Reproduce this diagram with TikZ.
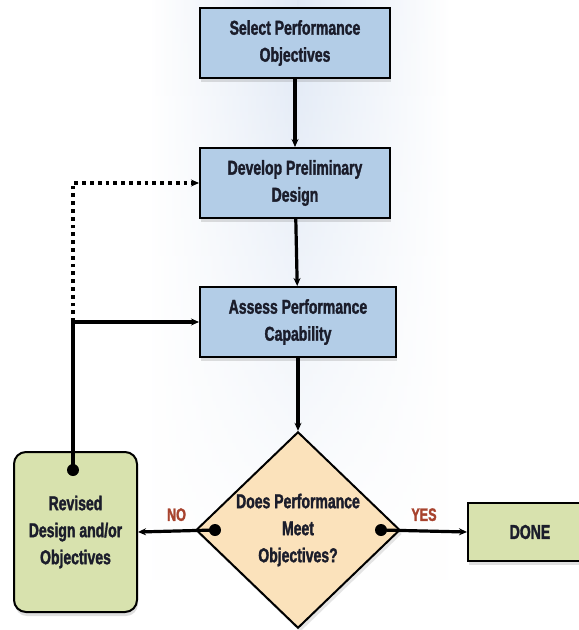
\documentclass[tikz,border=0pt]{standalone}
\usepackage{fontspec}
\setmainfont{Liberation Sans}[FakeStretch=0.70, BoldFeatures={FakeBold=1.6}]
\usetikzlibrary{positioning,shapes.geometric,arrows.meta,shadows,calc,fadings}
\definecolor{stepblue}{HTML}{B3CDE7}
\definecolor{stepgreen}{HTML}{D8E2AE}
\definecolor{askpeach}{HTML}{FBE2BB}
\definecolor{glowblue}{HTML}{CCDAEF}
\definecolor{answerred}{HTML}{A8432E}
\definecolor{inkdark}{HTML}{1B1D2B}
\tikzfading[name=glowfade, top color=transparent!40, middle color=transparent!0,
  bottom color=transparent!100]
\tikzset{
  every node/.style={font=\fontsize{20}{27}\selectfont\bfseries, text=inkdark},
  stepbox/.style={draw=black, line width=2pt, fill=stepblue, minimum width=190pt,
    minimum height=70pt, align=center,
    drop shadow={shadow xshift=1pt, shadow yshift=-4pt, opacity=0.25}},
  endbox/.style={draw=black, line width=2pt, fill=stepgreen, align=center,
    drop shadow={shadow xshift=1pt, shadow yshift=-4pt, opacity=0.25}},
  askbox/.style={diamond, draw=black, line width=2pt, fill=askpeach, inner sep=0pt,
    minimum width=204pt, minimum height=194pt, align=center,
    drop shadow={shadow xshift=2pt, shadow yshift=-4pt, opacity=0.2}},
  flow/.style={line width=3.2pt, -{Stealth[length=8pt,width=7pt]}},
  loopback/.style={line width=3.8pt, dash pattern=on 3.8pt off 4pt,
    -{Stealth[length=8pt,width=7pt]}},
  dot/.style={fill=black, circle, inner sep=0pt, minimum size=12pt},
  answer/.style={text=answerred, font=\fontsize{18}{20}\selectfont\bfseries}
}
\begin{document}
\begin{tikzpicture}[x=1pt,y=-1pt]
  \clip (0,0) rectangle (579,630);
  \fill[white] (0,0) rectangle (579,630);
  % soft glow behind the middle column
  \shade[left color=white, right color=glowblue, path fading=glowfade] (150,0) rectangle (298,580);
  \shade[left color=glowblue, right color=white, path fading=glowfade] (298,0) rectangle (450,580);
  % steps
  \node[stepbox] (select) at (295,43) {Select Performance\\Objectives};
  \node[stepbox] (develop) at (295,183) {Develop Preliminary\\Design};
  \node[stepbox, minimum width=196pt] (assess) at (298,322) {Assess Performance\\Capability};
  \node[askbox] (meet) at (298,530) {Does Performance\\Meet\\Objectives?};
  \node[endbox, rounded corners=12pt, minimum width=123pt, minimum height=160pt]
    (revise) at (75.5,532) {Revised\\Design and/or\\Objectives};
  \node[endbox, minimum width=124pt, minimum height=58pt] (done) at (530,532) {DONE};
  % dots where the answers leave
  \node[dot] (nodot) at ($(meet.west)+(20,0)$) {};
  \node[dot] (yesdot) at ($(meet.east)+(-20,0)$) {};
  \node[dot] (backdot) at (73,470) {};
  \coordinate (corner) at (backdot |- assess.west);
  \coordinate (top) at (backdot |- develop.west);
  % connectors
  \draw[flow] (select) -- (develop);
  \draw[flow] (develop) -- (assess);
  \draw[flow] (assess) -- (meet.north);
  \draw[flow] (nodot.center) -- (revise.east) node[answer, midway, above=5pt] {NO};
  \draw[flow] (yesdot.center) -- (done.west) node[answer, midway, above=5pt] {YES};
  \draw[flow] (backdot.center) -- (corner) -- (assess.west);
  \draw[loopback] (corner) -- (top) -- (develop.west);
\end{tikzpicture}
\end{document}
